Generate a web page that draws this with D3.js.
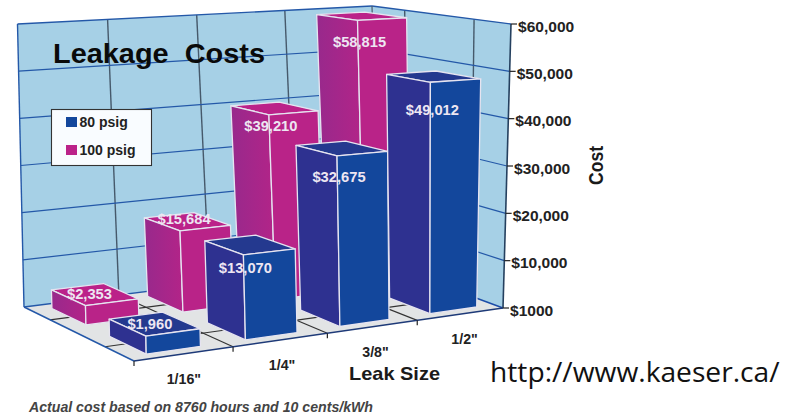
<!DOCTYPE html>
<html><head><meta charset="utf-8">
<script src="https://cdnjs.cloudflare.com/ajax/libs/d3/7.8.5/d3.min.js"></script>
<style>html,body{margin:0;background:#fff}svg{display:block}text{font-family:"Liberation Sans",Arial,sans-serif}</style>
</head><body><svg id="c" width="796" height="416"></svg>
<script>
const categories = ['1/16"', '1/4"', '3/8"', '1/2"'];
const seriesNames = ["80 psig", "100 psig"];
const psig80 = [1960, 13070, 32675, 49012];
const psig100 = [2353, 15684, 39210, 58815];
const tickValues = [0, 10000, 20000, 30000, 40000, 50000, 60000];
const tickLabels = ["$1000", "$10,000", "$20,000", "$30,000", "$40,000", "$50,000", "$60,000"];
const barValueKnots = [0, 2000, 13000, 15700, 33000, 39200, 49000, 58800, 60000];
const barHeightKnots = [0, 3500, 16800, 17000, 35000, 39800, 48300, 59100, 60000];

const svg = d3.select("#c");
const defs = svg.append("defs");
function grad(id, a, b) {
  const g = defs.append("linearGradient").attr("id", id);
  g.append("stop").attr("offset", "0").attr("stop-color", a);
  g.append("stop").attr("offset", "1").attr("stop-color", b);
}
grad("pinkL", "#98298C", "#B32488");
grad("blueL", "#2E3190", "#2E3190");

// projection of the chart box: u along categories, v into depth, h up
function quad(p) {
  const [p0, p1, p2, p3] = p;
  const dx1 = p1[0]-p2[0], dx2 = p3[0]-p2[0], dx3 = p0[0]-p1[0]+p2[0]-p3[0];
  const dy1 = p1[1]-p2[1], dy2 = p3[1]-p2[1], dy3 = p0[1]-p1[1]+p2[1]-p3[1];
  const den = dx1*dy2-dx2*dy1;
  const g = (dx3*dy2-dx2*dy3)/den, h = (dx1*dy3-dx3*dy1)/den;
  const a = p1[0]-p0[0]+g*p1[0], b = p3[0]-p0[0]+h*p3[0], c = p0[0];
  const d = p1[1]-p0[1]+g*p1[1], e = p3[1]-p0[1]+h*p3[1], f = p0[1];
  return (u, v) => { const w = g*u+h*v+1; return [(a*u+b*v+c)/w, (d*u+e*v+f)/w]; };
}
const floorQ = quad([[134,361],[503,308],[379,262],[24,307]]);
const topQ = quad([[129,44],[511,24],[372,6],[17.5,24]]);
const hScale = d3.scaleLinear().domain([0, 60000]).range([0, 1]);
const barScale = d3.scaleLinear().domain(barValueKnots).range(barHeightKnots);
const P = (u, v, val) => {
  const a = floorQ(u, v), b = topQ(u, v), t = hScale(val);
  return [a[0]+(b[0]-a[0])*t, a[1]+(b[1]-a[1])*t];
};
const uBand = d3.scaleBand().domain(categories).range([0, 1]).paddingInner(0.46).paddingOuter(0.2);
const vBand = d3.scaleBand().domain(seriesNames).range([0.07, 0.92]).paddingInner(0.4).paddingOuter(0);
const line = d3.line();
const poly = pts => line(pts) + "Z";
const seg = (g, a, b, col, w) => g.append("line").attr("x1", a[0]).attr("y1", a[1]).attr("x2", b[0]).attr("y2", b[1]).attr("stroke", col).attr("stroke-width", w);
// the reference lettering is slightly wider than Liberation Sans
const widen = (sel, f) => sel.each(function() {
  this.setAttribute("textLength", this.getComputedTextLength()*f);
  this.setAttribute("lengthAdjust", "spacingAndGlyphs");
});

// walls and floor
const W = svg.append("g");
const H0 = 0, H1 = 60000;
W.append("path").attr("d", poly([P(0,1,H0),P(1,1,H0),P(1,1,H1),P(0,1,H1)])).attr("fill", "#A6D0E6");
W.append("path").attr("d", poly([P(1,1,H0),P(1,0,H0),P(1,0,H1),P(1,1,H1)])).attr("fill", "#A6D0E6");
W.append("path").attr("d", poly([P(0,0,H0),P(1,0,H0),P(1,1,H0),P(0,1,H0)])).attr("fill", "#E2E4E5");
[0.25, 0.5, 0.75].forEach(u => seg(W, P(u,1,H0), P(u,1,H1), "#46596B", 1.4));
[0.25, 0.75].forEach(v => seg(W, P(1,v,H0), P(1,v,H1), "#46596B", 1.4));
tickValues.slice(1, 6).forEach(t => {
  seg(W, P(0,1,t), P(1,1,t), "#2458A8", 1.2);
  seg(W, P(1,1,t), P(1,0,t), "#2458A8", 1.2);
});
seg(W, P(0,1,H1), P(1,1,H1), "#2458A8", 1.3);
seg(W, P(1,1,H1), P(1,0,H1), "#2458A8", 1.3);
seg(W, P(0,1,H0), P(0,1,H1), "#2458A8", 1.4);
seg(W, P(1,1,H0), P(1,1,H1), "#46596B", 1.2);
seg(W, P(0,1,H0), P(1,1,H0), "#2458A8", 1.3);
seg(W, P(1,1,H0), P(1,0,H0), "#1C4CA8", 1.5);
[0.25, 0.5, 0.75].forEach(u => seg(W, P(u,0,H0), P(u,1,H0), "#333", 1.2));
[0.25, 0.75].forEach(v => seg(W, P(0,v,H0), P(1,v,H0), "#333", 1.2));
seg(W, P(0,0,H0), P(0,1,H0), "#2458A8", 1.4);
seg(W, P(0,0,H0), P(1,0,H0), "#1E3A78", 1.6);
seg(W, P(1,0,H0), P(1,0,H1), "#25405F", 1.6);
[0, 0.25, 0.5, 0.75].forEach(u => { const a = P(u,0,H0); seg(W, a, [a[0], a[1]+5], "#222", 1.2); });

// bars: back row first
const seriesData = [
  {name: "100 psig", values: psig100, top: "#BB2289", left: "url(#pinkL)", right: "#B92388"},
  {name: "80 psig", values: psig80, top: "#24398F", left: "url(#blueL)", right: "#13479C"}
];
const B = svg.append("g");
const labels = [];
seriesData.forEach(s => {
  categories.forEach((c, i) => {
    const val = barScale(s.values[i]);
    const u0 = uBand(c), u1 = u0 + uBand.bandwidth();
    const v0 = vBand(s.name), v1 = v0 + vBand.bandwidth();
    const g = B.append("g").attr("stroke", "#E6E4F0").attr("stroke-width", 1.3).attr("stroke-linejoin", "round");
    g.append("path").attr("d", poly([P(u0,v1,val),P(u1,v1,val),P(u1,v0,val),P(u0,v0,val)])).attr("fill", s.top);
    g.append("path").attr("d", poly([P(u0,v0,0),P(u0,v1,0),P(u0,v1,val),P(u0,v0,val)])).attr("fill", s.left);
    g.append("path").attr("d", poly([P(u0,v0,0),P(u1,v0,0),P(u1,v0,val),P(u0,v0,val)])).attr("fill", s.right);
    const corner = P(u0, v0, val);
    const raw = s.values[i];
    // short bars carry the value on the top face, tall bars on the front edge
    const onTop = raw < 20000 && !(s.name === "80 psig" && raw > 10000);
    const drop = onTop ? -12 : (s.name === "80 psig" ? 8 + raw*0.0004 : raw*0.00056 - 11);
    labels.push({x: corner[0] + (onTop ? 4 : 2), y: corner[1] + drop, t: d3.format("$,")(raw)});
  });
});
svg.append("g").selectAll("text").data(labels).join("text")
  .attr("x", d => d.x).attr("y", d => d.y).attr("dy", "0.35em").attr("text-anchor", "middle")
  .attr("font-size", 14).attr("font-weight", "bold").attr("fill", "#EDE6F2").text(d => d.t).call(widen, 1.05);

// value axis
const A = svg.append("g");
tickValues.forEach((t, i) => {
  const p = P(1, 0, t);
  seg(A, p, [p[0]+6, p[1]], "#222", 1.2);
  A.append("text").attr("x", p[0]+7).attr("y", p[1]+2.5).attr("dy", "0.35em")
    .attr("font-size", 14.8).attr("font-weight", "bold").attr("fill", "#222").text(tickLabels[i]).call(widen, 1.05);
});
// category labels
svg.append("g").selectAll("text").data(categories).join("text")
  .attr("x", d => P(uBand(d)+uBand.bandwidth()/2, 0, 0)[0] + 2)
  .attr("y", d => P(uBand(d)+uBand.bandwidth()/2, 0, 0)[1] + 30)
  .attr("text-anchor", "middle").attr("font-size", 14.2).attr("font-weight", "bold").attr("fill", "#222").text(d => d);

const T = (x, y, s, size, extra = {}) => {
  const n = svg.append("text").attr("x", x).attr("y", y).attr("font-size", size).attr("font-weight", "bold").attr("fill", "#1a1a1a").text(s);
  Object.entries(extra).forEach(([k, v]) => n.attr(k, v));
  return n;
};
T(53, 63, "Leakage  Costs", 27, {style: "white-space:pre", fill: "#0a0a0a", textLength: 212, lengthAdjust: "spacingAndGlyphs"});
T(349, 380, "Leak Size", 18.5, {textLength: 91, lengthAdjust: "spacingAndGlyphs"});
T(0, 0, "Cost", 20, {transform: "translate(603,185) rotate(-90)", textLength: 39, lengthAdjust: "spacingAndGlyphs"});
T(29, 411.5, "Actual cost based on 8760 hours and 10 cents/kWh", 14, {"font-style": "italic", fill: "#444", textLength: 344, lengthAdjust: "spacingAndGlyphs"});
svg.append("text").attr("x", 490).attr("y", 382).attr("font-size", 28.2).attr("fill", "#111")
  .style("font-family", "'Open Sans'").text("http://www.kaeser.ca/");

// legend
const L = svg.append("g");
L.append("rect").attr("x", 51.5).attr("y", 109.5).attr("width", 100).attr("height", 56).attr("fill", "#F9FCFF").attr("stroke", "#333").attr("stroke-width", 1.1);
[["#13479C", "80 psig", 117], ["#BB2289", "100 psig", 145]].forEach(([col, t, y]) => {
  L.append("rect").attr("x", 66).attr("y", y).attr("width", 11).attr("height", 10).attr("fill", col);
  L.append("text").attr("x", 79.5).attr("y", y+10).attr("font-size", 14).attr("font-weight", "bold").attr("fill", "#222").text(t);
});
</script></body></html>
